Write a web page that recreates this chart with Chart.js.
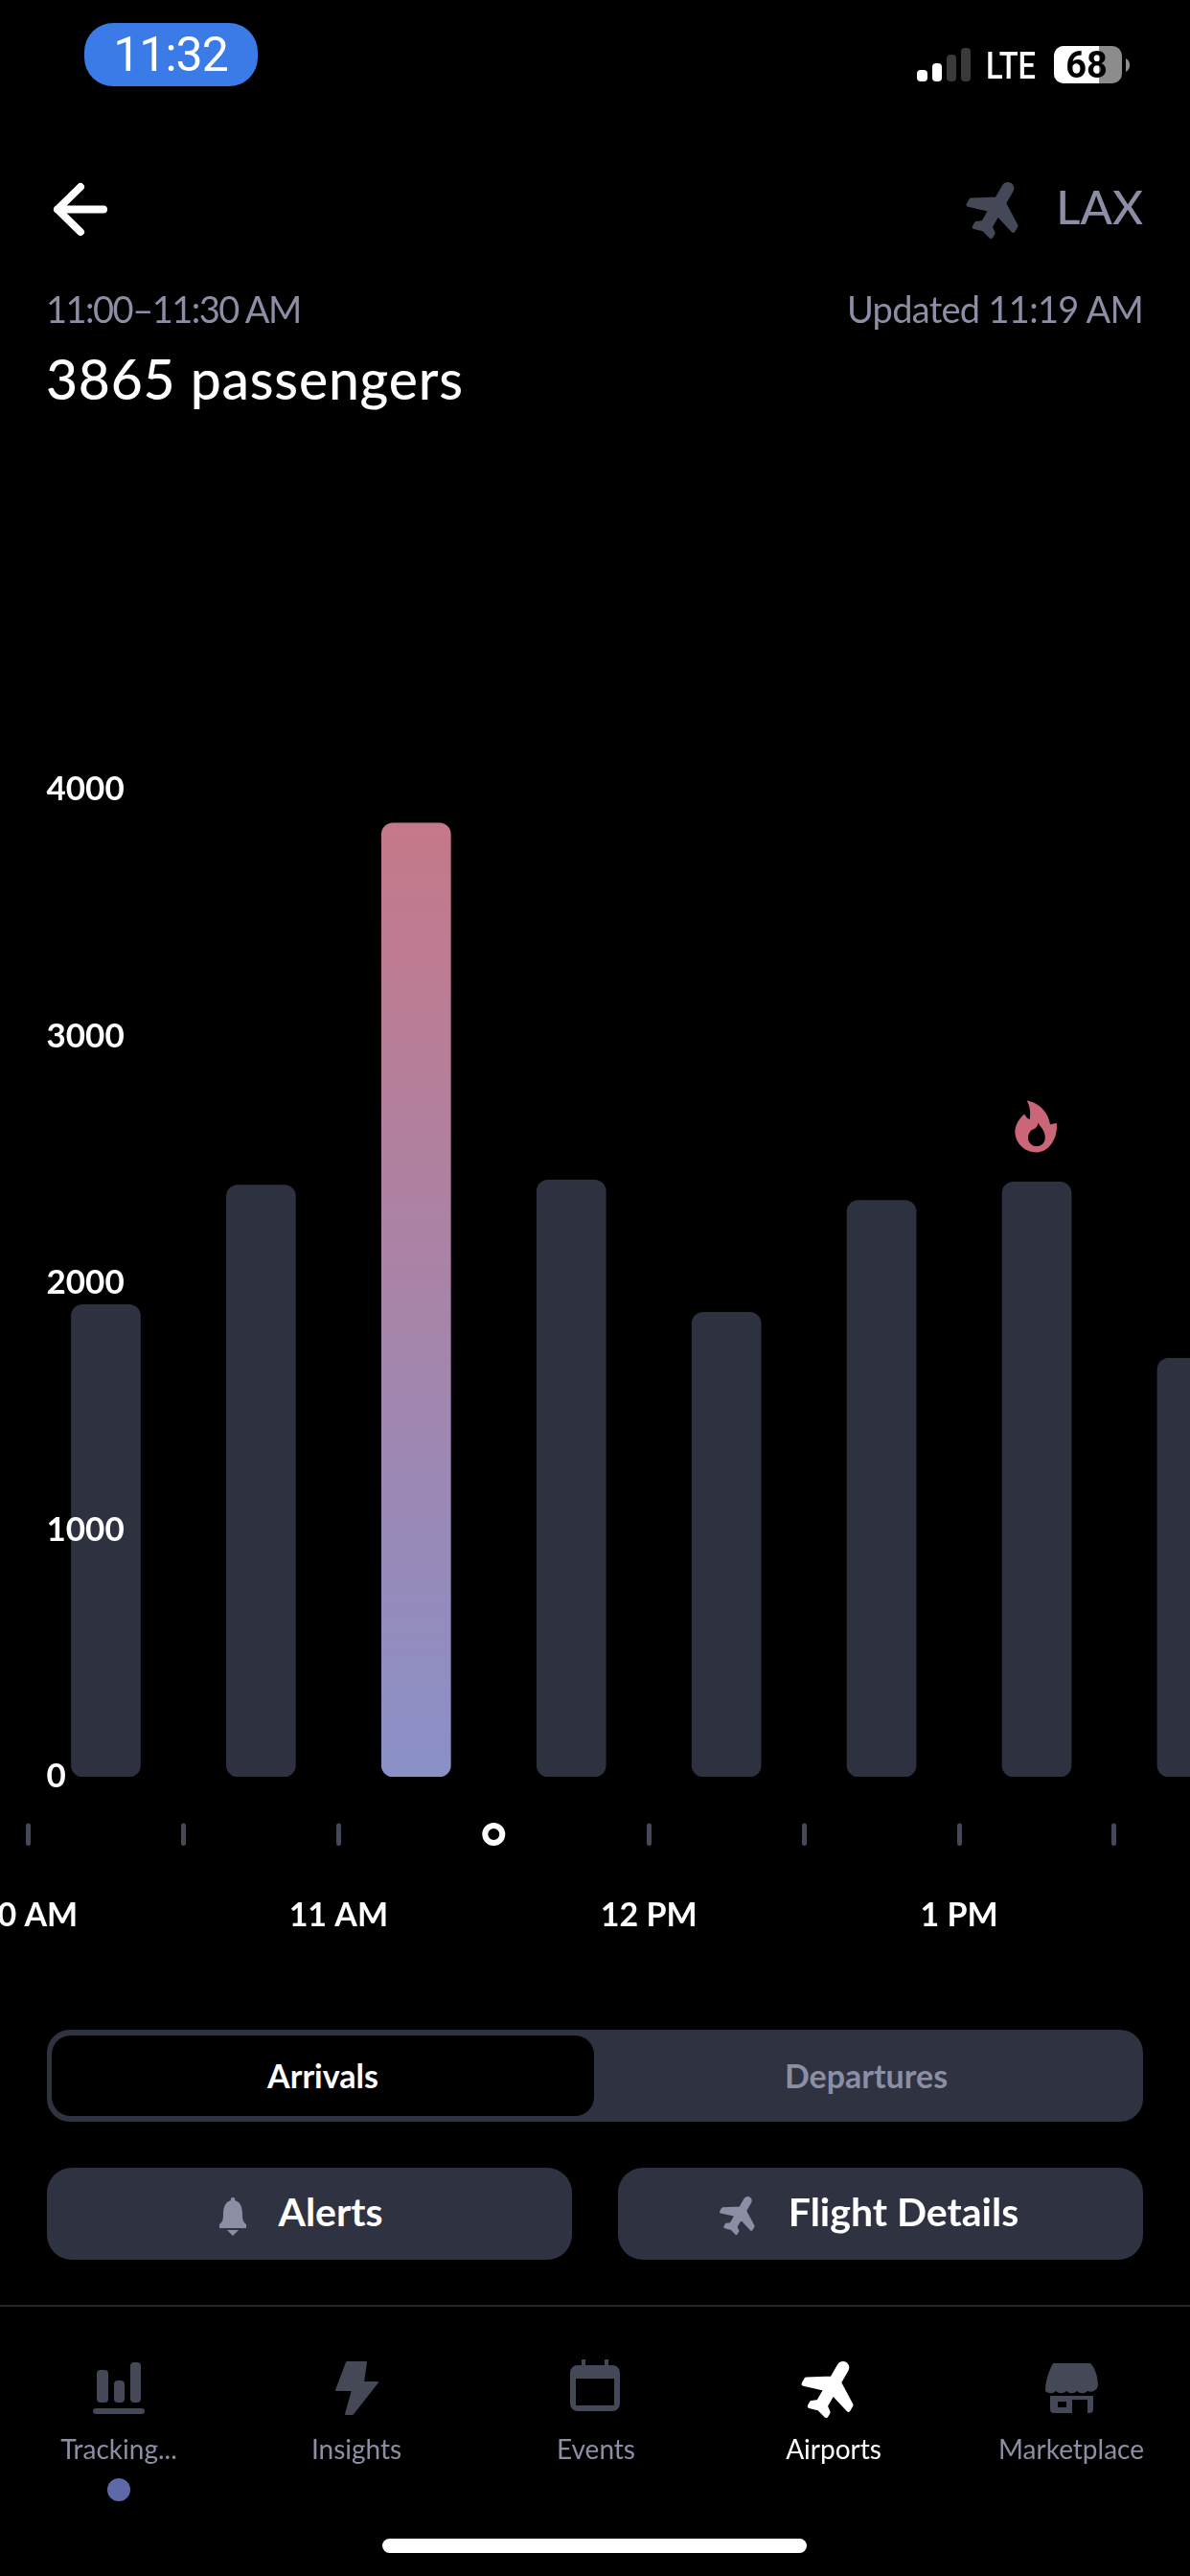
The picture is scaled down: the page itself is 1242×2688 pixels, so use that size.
<!DOCTYPE html>
<html>
<head>
<meta charset="utf-8">
<script src="https://cdn.jsdelivr.net/npm/chart.js@4"></script>
<style>
html,body{margin:0;padding:0;background:#000;width:1242px;height:2688px;overflow:hidden;font-family:Lato,sans-serif}
canvas{position:absolute;left:0;top:0}
.t{position:absolute;white-space:nowrap;line-height:1}
.c{transform:translate(-50%,-50%)}
.box{position:absolute}
svg{position:absolute;overflow:visible}
.grey{color:#8b8ea5}
</style>
</head>
<body>
<canvas id="c" width="1242" height="2688"></canvas>

<!-- status bar -->
<div class="box" style="left:88px;top:24px;width:181px;height:66px;border-radius:30px;background:#3a7be8"></div>
<div class="t c" style="left:178px;top:57px;font:400 50px Roboto;color:#fff;letter-spacing:-1px">11:32</div>
<svg style="left:0;top:0" width="1242" height="100">
<rect x="957" y="73" width="11" height="12" rx="4" fill="#fff"/>
<rect x="973" y="66" width="10" height="19" rx="4" fill="#fff"/>
<rect x="988" y="57" width="10" height="28" rx="4" fill="#3a3a3a"/>
<rect x="1003" y="50" width="10" height="35" rx="4" fill="#3a3a3a"/>
<rect x="1100" y="48" width="71" height="39" rx="10" fill="#8c8c8c"/>
<path d="M1110 48H1147V87H1110A10 10 0 0 1 1100 77V58A10 10 0 0 1 1110 48Z" fill="#fff"/>
<path d="M1175 61A8 8 0 0 1 1175 75Z" fill="#8c8c8c"/>
</svg>
<div class="t c" style="left:1055px;top:69px;font:500 38px Roboto;color:#fff;transform:translate(-50%,-50%) scaleX(.86)">LTE</div>
<div class="t c" style="left:1134px;top:68px;font:700 38px Roboto;color:#000">68</div>

<svg width="0" height="0" style="left:0;top:0"><defs>
<symbol id="plane" viewBox="0 0 24 24"><g transform="rotate(30 12 12)"><path d="M21 16v-2l-8-5V3.5c0-.83-.67-1.5-1.5-1.5S10 2.67 10 3.5V9l-8 5v2l8-2.5V19l-2 1.5V22l3.5-1 3.5 1v-1.5L13 19v-5.5l8 2.5z" stroke-width="1.6" stroke-linejoin="round"/></g></symbol>
</defs></svg>

<!-- header -->
<svg style="left:0;top:0" width="1242" height="300">
<path d="M84 195L60 218.5L84 242M60 218.5H108" fill="none" stroke="#fff" stroke-width="8" stroke-linecap="round" stroke-linejoin="round"/>
</svg>
<svg style="left:1007px;top:184px;fill:#444857;stroke:#444857" width="68" height="68"><use href="#plane"/></svg>
<div class="t" style="right:49px;top:186px;font:500 49px Lato;color:#8b8ea5">LAX</div>
<div class="t grey" style="left:48px;top:299px;font:400 38px Lato;letter-spacing:-1.5px">11:00–11:30 AM</div>
<div class="t grey" style="right:49px;top:299px;font:400 38px Lato;letter-spacing:-.7px">Updated 11:19 AM</div>
<div class="t" style="left:48px;top:361px;font:500 57px Lato;color:#fff;letter-spacing:.8px">3865 passengers</div>

<!-- controls -->
<div class="box" style="left:49px;top:2118px;width:1144px;height:96px;border-radius:24px;background:#2f3240"></div>
<div class="box" style="left:54px;top:2124px;width:566px;height:84px;border-radius:20px;background:#000"></div>
<div class="t c" style="left:337px;top:2165px;font:700 34px Lato;color:#fff">Arrivals</div>
<div class="t c grey" style="left:904px;top:2165px;font:700 34px Lato">Departures</div>
<div class="box" style="left:49px;top:2262px;width:548px;height:96px;border-radius:26px;background:#2f3240"></div>
<div class="box" style="left:645px;top:2262px;width:548px;height:96px;border-radius:26px;background:#2f3240"></div>
<svg style="left:0;top:2280px" width="1242" height="60">
<path d="M243 13a2 2 0 0 1 2 3c7 2 8 9 8 15c0 5 1 8 4 10v4h-28v-4c3-2 4-5 4-10c0-6 1-13 8-15a2 2 0 0 1 2-3z" fill="#8b8ea5"/>
<path d="M237 47h12l-6 6z" fill="#8b8ea5"/>
</svg>
<div class="t c" style="left:345px;top:2307px;font:700 41px Lato;color:#fff">Alerts</div>
<svg style="left:750px;top:2288px;fill:#8b8ea5;stroke:#8b8ea5" width="46" height="46"><use href="#plane"/></svg>
<div class="t c" style="left:943px;top:2307px;font:700 41px Lato;color:#fff">Flight Details</div>

<!-- nav -->
<div class="box" style="left:0;top:2405px;width:1242px;height:2px;background:#23252f"></div>
<svg style="left:0;top:2450px;fill:#444857" width="1242" height="80">
<rect x="101" y="23" width="12" height="34" rx="4"/><rect x="119" y="34" width="11" height="23" rx="4"/><rect x="136" y="15" width="11" height="42" rx="4"/><rect x="97" y="63" width="54" height="6" rx="3"/>
<path d="M362 15h20l-3 21h15l-26 33h-7l7-25h-17z" stroke="#444857" stroke-width="2" stroke-linejoin="round"/>
<path d="M595 26a8 8 0 0 1 8-8h4v-6h4v6h20v-6h4v6h4a8 8 0 0 1 8 8v32a8 8 0 0 1-8 8h-36a8 8 0 0 1-8-8zM601 32v27a1 1 0 0 0 1 1h38a1 1 0 0 0 1-1v-27z" fill-rule="evenodd"/>
<path d="M1099 16h39c5 5 8 14 8 24a8 8 0 0 1-11 5a8 8 0 0 1-11 0a8 8 0 0 1-11 0a8 8 0 0 1-11 0a8 8 0 0 1-11 0c-0-10 3-19 8-29zM1096 50h45v14a4 4 0 0 1-4 4h-2v-14h-16v14h-19a4 4 0 0 1-4-4zM1104 56v6h9v-6z" fill-rule="evenodd"/>
</svg>
<svg style="left:835px;top:2458px;fill:#fff;stroke:#fff" width="68" height="68"><use href="#plane"/></svg>
<div class="t c grey" style="left:124px;top:2555px;font:400 28px Lato">Tracking...</div>
<div class="t c grey" style="left:372px;top:2555px;font:400 28px Lato">Insights</div>
<div class="t c grey" style="left:622px;top:2555px;font:400 28px Lato">Events</div>
<div class="t c" style="left:870px;top:2555px;font:400 28px Lato;color:#fff">Airports</div>
<div class="t c grey" style="left:1118px;top:2555px;font:400 28px Lato">Marketplace</div>
<div class="box" style="left:112px;top:2586px;width:24px;height:24px;border-radius:50%;background:#5f68a8"></div>
<div class="box" style="left:399px;top:2649px;width:443px;height:15px;border-radius:8px;background:#fff"></div>

<script>
const slots = ['10:00','10:30','11:00','11:30','12:00','12:30','13:00','13:30'];
const passengers = [1913, 2398, 3865, 2418, 1882, 2336, 2410, 1696];
const tickLabels = ['10 AM','','11 AM','','12 PM','','1 PM',''];
const yTicks = [0, 1000, 2000, 3000, 4000];
const selectedSlot = 2;
const busiestSlot = 6;
const nowTick = 3;
const visibleSlots = 7.488;

const barColor = '#2e3140';
const flame = new Path2D('M-31 -81C10 -75 38 -40 42 -6C50 -8 58 -9 62 -10C68 30 42 81 0 81C-40 81 -68 50 -68 16C-68 -8 -50 -30 -38 -39C-34 -30 -30 -25 -22 -22C-18 -45 -22 -65 -31 -81ZM5 -12C8 0 28 10 26 36C26 52 14 62 0 62C-15 62 -27 50 -27 36C-27 22 -18 10 -8 8C-3 6 4 -2 5 -12Z');

const decorations = {
  id: 'decorations',
  beforeDraw(chart) { chart.ctx.lineCap = 'round'; },
  afterLayout(chart) { chart.scales.x.top += 50.5; },
  afterDraw(chart) {
    const {ctx, scales: {x, y}} = chart;
    ctx.save();
    ctx.lineCap = 'butt';
    ctx.beginPath();
    ctx.arc(x.getPixelForValue(nowTick), x.top + 9.5, 9, 0, Math.PI * 2);
    ctx.lineWidth = 6;
    ctx.strokeStyle = '#fff';
    ctx.stroke();
    ctx.translate(x.getPixelForValue(busiestSlot + .5), y.getPixelForValue(passengers[busiestSlot]) - 58);
    ctx.scale(1 / 3, 1 / 3);
    ctx.fillStyle = '#cb6678';
    ctx.fill(flame, 'evenodd');
    ctx.restore();
  }
};

new Chart(document.getElementById('c'), {
  type: 'bar',
  plugins: [decorations],
  data: {
    datasets: [{
      label: 'Passengers',
      data: slots.map((s, i) => ({x: i + .5, y: passengers[i]})),
      barThickness: 72,
      borderRadius: 12,
      borderSkipped: false,
      backgroundColor(ctx) {
        if (ctx.dataIndex !== selectedSlot) return barColor;
        const y = ctx.chart.scales.y;
        if (!y) return barColor;
        const g = ctx.chart.ctx.createLinearGradient(0, y.getPixelForValue(passengers[selectedSlot]), 0, y.getPixelForValue(0));
        g.addColorStop(0, '#c57889');
        g.addColorStop(1, '#8a90c8');
        return g;
      }
    }]
  },
  options: {
    responsive: false,
    animation: false,
    devicePixelRatio: 1,
    layout: {padding: {left: 29.5, top: 824, right: 0, bottom: 0}},
    plugins: {legend: {display: false}, title: {display: false}, tooltip: {enabled: false}},
    scales: {
      x: {
        type: 'linear',
        min: 0,
        max: visibleSlots,
        offset: false,
        afterFit(s) { s.height = 834; s.paddingLeft = 0; s.paddingRight = 0; },
        border: {display: false},
        grid: {
          offset: false,
          drawOnChartArea: false,
          tickLength: 19,
          tickWidth: 5,
          tickColor: c => c.tick && c.tick.value === nowTick ? 'transparent' : '#454859'
        },
        ticks: {
          stepSize: 1,
          includeBounds: false,
          autoSkip: false,
          maxRotation: 0,
          padding: 55,
          color: '#fff',
          font: {family: 'Lato', size: 34, weight: '700'},
          callback: v => tickLabels[v] ?? ''
        }
      },
      y: {
        min: 0,
        max: 4000,
        afterFit(s) { s.width = 0; },
        afterBuildTicks(s) { s.ticks = yTicks.map(value => ({value})); },
        border: {display: false},
        grid: {display: false, drawTicks: false},
        ticks: {
          z: 1,
          mirror: true,
          padding: 19,
          color: '#fff',
          font: {family: 'Lato', size: 35, weight: '700'},
          callback: v => String(v)
        }
      }
    }
  }
});
</script>
</body>
</html>
